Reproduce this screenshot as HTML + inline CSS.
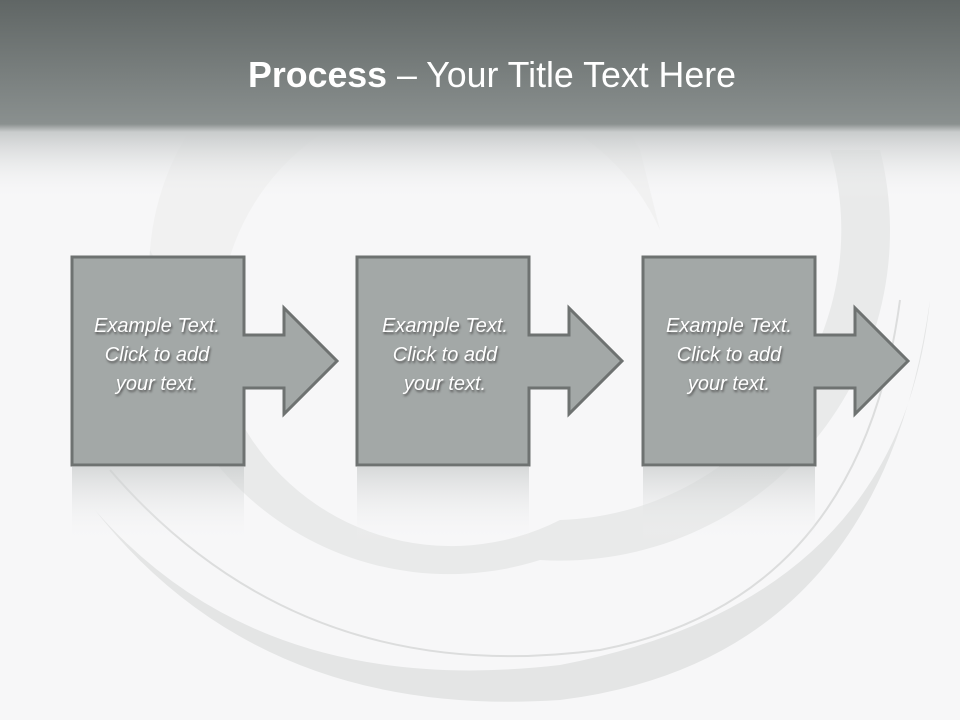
<!DOCTYPE html>
<html><head><style>
body{margin:0;width:960px;height:720px;overflow:hidden;background:#f7f7f8;font-family:"Liberation Sans",sans-serif}
</style></head><body>
<svg width="960" height="720" viewBox="0 0 960 720" style="position:absolute;left:0;top:0">
<defs>
<linearGradient id="hd" x1="0" y1="0" x2="0" y2="1">
<stop offset="0" stop-color="#606665"/>
<stop offset="0.62" stop-color="#8a908f"/>
<stop offset="0.66" stop-color="#c9cccc"/>
<stop offset="1" stop-color="#f7f7f8" stop-opacity="0"/>
</linearGradient>
<linearGradient id="rf" x1="0" y1="0" x2="0" y2="1">
<stop offset="0" stop-color="#c9cccc" stop-opacity="0.7"/>
<stop offset="1" stop-color="#f7f7f8" stop-opacity="0"/>
</linearGradient>
</defs>
<rect width="960" height="720" fill="#f7f7f8"/>
<path d="M150 250 A260 260 0 0 1 640 150 L660 230 A180 180 0 0 0 240 420 Z" fill="#f1f1f1"/>
<path d="M150 250 A300 300 0 0 0 540 560 A330 330 0 0 0 880 150 L830 150 A290 290 0 0 1 560 520 A240 240 0 0 1 240 420 Z" fill="#e9eaea"/>
<path d="M95 510 Q260 720 560 700 Q880 660 930 300 Q900 600 560 665 Q260 700 95 510 Z" fill="#e4e5e5"/>
<path d="M110 470 Q300 690 600 650 Q860 600 900 300" fill="none" stroke="#dcdddd" stroke-width="2"/>
<rect width="960" height="200" fill="url(#hd)"/>
<text x="492" y="87" text-anchor="middle" font-family="Liberation Sans" font-size="36" fill="#fff" textLength="488" lengthAdjust="spacingAndGlyphs"><tspan font-weight="bold">Process</tspan> – Your Title Text Here</text>
<g fill="url(#rf)">
<rect x="72" y="467" width="172" height="75"/>
<rect x="357" y="467" width="172" height="75"/>
<rect x="643" y="467" width="172" height="75"/>
</g>
<g fill="#a3a8a7" stroke="#6e7271" stroke-width="3" stroke-linejoin="miter">
<path d="M72 257 H244 V335 H284 V308 L337 361 L284 414 V388 H244 V465 H72 Z"/>
<path d="M357 257 H529 V335 H569 V308 L622 361 L569 414 V388 H529 V465 H357 Z"/>
<path d="M643 257 H815 V335 H855 V308 L908 361 L855 414 V388 H815 V465 H643 Z"/>
</g>
<g font-family="Liberation Sans" font-style="italic" font-size="20" fill="#fff" text-anchor="middle" style="text-shadow:1px 2px 2px #555">
<text x="157" y="332">Example Text.</text><text x="157" y="361">Click  to add</text><text x="157" y="390">your text.</text>
<text x="445" y="332">Example Text.</text><text x="445" y="361">Click  to add</text><text x="445" y="390">your text.</text>
<text x="729" y="332">Example Text.</text><text x="729" y="361">Click  to add</text><text x="729" y="390">your text.</text>
</g>
</svg>
</body></html>
